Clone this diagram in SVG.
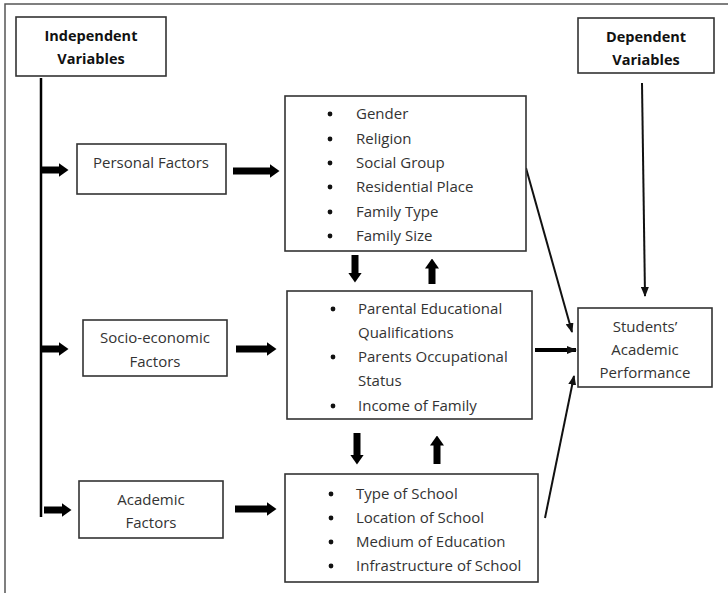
<svg xmlns="http://www.w3.org/2000/svg" width="728" height="593" viewBox="0 0 728 593">
<defs>
<style>
.box{fill:#fff;stroke:#333;stroke-width:1.6}
.t{font-family:"Open Sans","Liberation Sans",sans-serif;font-size:15px;fill:#333}
.c{text-anchor:middle}
.h{font-family:"Open Sans","Liberation Sans",sans-serif;font-size:14.5px;font-weight:bold;fill:#111;text-anchor:middle}
.blk{stroke:#000;stroke-width:7;fill:none}
.thin{stroke:#111;stroke-width:2;fill:none}
</style>
<marker id="bh" viewBox="0 0 10 14" markerWidth="10" markerHeight="14" refX="0.5" refY="7" orient="auto" markerUnits="userSpaceOnUse"><path d="M0,0 L10,7 L0,14 z" fill="#000"/></marker>
<marker id="th" viewBox="0 0 10 8" markerWidth="10" markerHeight="8" refX="9" refY="4" orient="auto" markerUnits="userSpaceOnUse"><path d="M0,0 L10,4 L0,8 z" fill="#111"/></marker>
</defs>
<rect x="5" y="4" width="740" height="610" fill="#fff" stroke="#555" stroke-width="1.5"/>

<g id="connectors">
<line x1="41" y1="78" x2="41" y2="517" stroke="#000" stroke-width="2.5"/>
<line class="blk" x1="41" y1="170" x2="59" y2="170" marker-end="url(#bh)"/>
<line class="blk" x1="41" y1="349" x2="59" y2="349" marker-end="url(#bh)"/>
<line class="blk" x1="44" y1="510" x2="62" y2="510" marker-end="url(#bh)"/>
<line class="blk" x1="233" y1="171" x2="270" y2="171" marker-end="url(#bh)"/>
<line class="blk" x1="236" y1="349" x2="267" y2="349" marker-end="url(#bh)"/>
<line class="blk" x1="235" y1="509" x2="267" y2="509" marker-end="url(#bh)"/>
<line class="blk" x1="355" y1="255" x2="355" y2="273" marker-end="url(#bh)"/>
<line class="blk" x1="432" y1="284" x2="432" y2="268" marker-end="url(#bh)"/>
<line class="blk" x1="357" y1="433" x2="357" y2="455" marker-end="url(#bh)"/>
<line class="blk" x1="437" y1="464" x2="437" y2="445" marker-end="url(#bh)"/>
<line class="thin" x1="526" y1="168" x2="572" y2="332" marker-end="url(#th)"/>
<line class="thin" x1="642" y1="83" x2="645" y2="296" marker-end="url(#th)"/>
<line x1="535" y1="350" x2="576" y2="350" stroke="#000" stroke-width="4" marker-end="url(#th)"/>
<line class="thin" x1="545" y1="518" x2="574" y2="376" marker-end="url(#th)"/>
</g>

<g id="independent">
<rect class="box" x="16" y="17" width="150" height="59"/>
<text class="h" x="91" y="41">Independent</text>
<text class="h" x="91" y="64">Variables</text>
</g>

<g id="dependent">
<rect class="box" x="578" y="18" width="136" height="55"/>
<text class="h" x="646" y="42">Dependent</text>
<text class="h" x="646" y="65">Variables</text>
</g>

<g id="personal">
<rect class="box" x="77" y="144" width="149" height="50"/>
<text class="t c" x="151" y="168">Personal Factors</text>
</g>

<g id="socio">
<rect class="box" x="83" y="320" width="144" height="56"/>
<text class="t c" x="155" y="343">Socio-economic</text>
<text class="t c" x="155" y="367">Factors</text>
</g>

<g id="academic">
<rect class="box" x="79" y="481" width="144" height="57"/>
<text class="t c" x="151" y="505">Academic</text>
<text class="t c" x="151" y="528">Factors</text>
</g>

<g id="personal-list">
<rect class="box" x="285" y="96" width="241" height="155"/>
<g fill="#111"><circle cx="330" cy="114" r="2.4"/><circle cx="330" cy="139" r="2.4"/><circle cx="330" cy="163" r="2.4"/><circle cx="330" cy="187" r="2.4"/><circle cx="330" cy="212" r="2.4"/><circle cx="330" cy="236" r="2.4"/></g>
<text class="t" x="356" y="119">Gender</text>
<text class="t" x="356" y="144">Religion</text>
<text class="t" x="356" y="168">Social Group</text>
<text class="t" x="356" y="192">Residential Place</text>
<text class="t" x="356" y="217">Family Type</text>
<text class="t" x="356" y="241">Family Size</text>
</g>

<g id="socio-list">
<rect class="box" x="287" y="291" width="245" height="128"/>
<g fill="#111"><circle cx="333" cy="309" r="2.4"/><circle cx="333" cy="357" r="2.4"/><circle cx="333" cy="406" r="2.4"/></g>
<text class="t" x="358" y="314">Parental Educational</text>
<text class="t" x="358" y="338">Qualifications</text>
<text class="t" x="358" y="362">Parents Occupational</text>
<text class="t" x="358" y="386">Status</text>
<text class="t" x="358" y="411">Income of Family</text>
</g>

<g id="academic-list">
<rect class="box" x="285" y="474" width="253" height="108"/>
<g fill="#111"><circle cx="331" cy="494" r="2.4"/><circle cx="331" cy="518" r="2.4"/><circle cx="331" cy="542" r="2.4"/><circle cx="331" cy="566" r="2.4"/></g>
<text class="t" x="356" y="499">Type of School</text>
<text class="t" x="356" y="523">Location of School</text>
<text class="t" x="356" y="547">Medium of Education</text>
<text class="t" x="356" y="571">Infrastructure of School</text>
</g>

<g id="performance">
<rect class="box" x="578" y="308" width="134" height="79"/>
<text class="t c" x="645" y="332">Students’</text>
<text class="t c" x="645" y="355">Academic</text>
<text class="t c" x="645" y="378">Performance</text>
</g>
</svg>
